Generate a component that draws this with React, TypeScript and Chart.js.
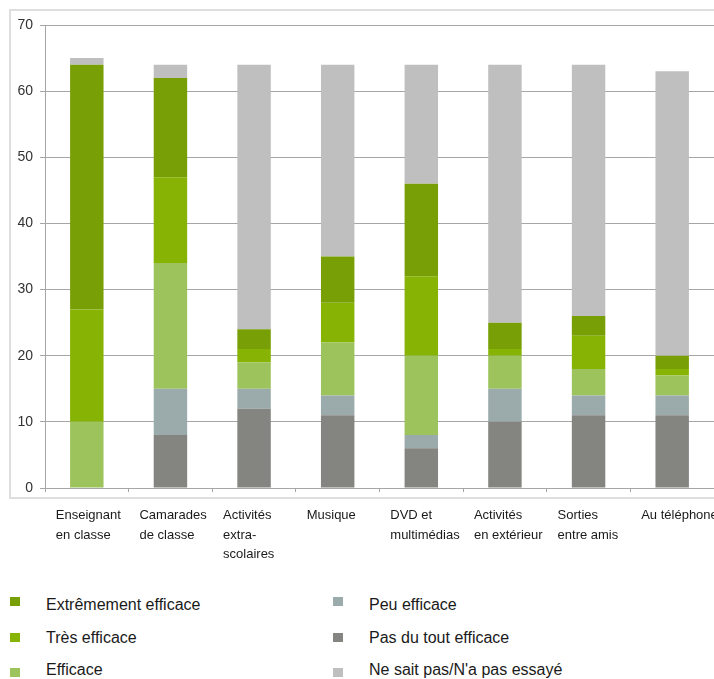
import React, { useEffect, useRef } from "react";
import { Chart, registerables } from "chart.js";

Chart.register(...registerables);

// ---- Data ----
const categories: string[][] = [
  ["Enseignant", "en classe"],
  ["Camarades", "de classe"],
  ["Activités", "extra-", "scolaires"],
  ["Musique"],
  ["DVD et", "multimédias"],
  ["Activités", "en extérieur"],
  ["Sorties", "entre amis"],
  ["Au téléphone"],
];

const pasDuTout = [0, 8, 12, 11, 6, 10, 11, 11];
const peu = [0, 7, 3, 3, 2, 5, 3, 3];
const efficace = [10, 19, 4, 8, 12, 5, 4, 3];
const tres = [17, 13, 2, 6, 12, 1, 5, 1];
const extreme = [37, 15, 3, 7, 14, 4, 3, 2];
const nsp = [1, 2, 40, 29, 18, 39, 38, 43];

const yTicks = [0, 10, 20, 30, 40, 50, 60, 70];

// stacking order bottom -> top
const series = [
  { label: "Pas du tout efficace", data: pasDuTout, color: "#848580" },
  { label: "Peu efficace", data: peu, color: "#9babab" },
  { label: "Efficace", data: efficace, color: "#9dc45c" },
  { label: "Très efficace", data: tres, color: "#86b304" },
  { label: "Extrêmement efficace", data: extreme, color: "#799f06" },
  { label: "Ne sait pas/N'a pas essayé", data: nsp, color: "#bfbfbf" },
];

// legend columns (by label)
const legendColumns = [
  ["Extrêmement efficace", "Très efficace", "Efficace"],
  ["Peu efficace", "Pas du tout efficace", "Ne sait pas/N'a pas essayé"],
];

const FONT = "'Liberation Sans', Arial, sans-serif";
const GRID = "#a6a6a6";

export default function App() {
  const ref = useRef<HTMLCanvasElement | null>(null);

  useEffect(() => {
    if (!ref.current) return;
    const chart = new Chart(ref.current, {
      type: "bar",
      data: {
        labels: categories,
        datasets: series.map((s) => ({
          label: s.label,
          data: s.data,
          backgroundColor: s.color,
          borderWidth: 0,
          barPercentage: 0.4,
          categoryPercentage: 1,
        })),
      },
      options: {
        responsive: false,
        animation: false,
        devicePixelRatio: 1,
        layout: { padding: { top: 25, right: 86, bottom: 0, left: 0 } },
        plugins: {
          legend: { display: false },
          tooltip: { enabled: false },
        },
        scales: {
          x: {
            stacked: true,
            offset: true,
            grid: {
              display: true,
              offset: true,
              drawOnChartArea: false,
              drawTicks: true,
              tickLength: 4,
              color: GRID,
            },
            border: { display: true, color: GRID, width: 1 },
            ticks: {
              autoSkip: false,
              maxRotation: 0,
              minRotation: 0,
              align: "start",
              labelOffset: -31,
              padding: 14,
              color: "#1a1a1a",
              font: { family: FONT, size: 13, lineHeight: 1.5 },
            },
            afterFit: (s: any) => {
              s.height = 80;
            },
          },
          y: {
            stacked: true,
            min: 0,
            max: 70,
            afterBuildTicks: (s: any) => {
              s.ticks = yTicks.map((v) => ({ value: v }));
            },
            grid: {
              color: GRID,
              lineWidth: 1,
              drawTicks: true,
              tickLength: 5,
            },
            border: { display: true, color: GRID, width: 1 },
            ticks: {
              padding: 7,
              color: "#333333",
              font: { family: FONT, size: 14 },
            },
            afterFit: (s: any) => {
              s.width = 45;
            },
          },
        },
      },
    });
    return () => chart.destroy();
  }, []);

  const colorOf = (label: string) =>
    series.find((s) => s.label === label)?.color ?? "#000";

  const squareTops = [597, 633, 668];
  const textCenters = [605, 638, 670];
  const colX = [{ sq: 10, tx: 46 }, { sq: 333, tx: 369 }];

  return (
    <div
      style={{
        position: "absolute",
        left: 0,
        top: 0,
        width: 714,
        height: 679,
        overflow: "hidden",
        background: "#ffffff",
      }}
    >
      <div
        style={{
          position: "absolute",
          left: 9,
          top: 9,
          width: 800,
          height: 490,
          boxSizing: "border-box",
          border: "2px solid #dedede",
        }}
      />
      <canvas
        ref={ref}
        width={800}
        height={568}
        style={{ position: "absolute", left: 0, top: 0, width: 800, height: 568 }}
      />
      {legendColumns.map((col, ci) =>
        col.map((label, ri) => (
          <React.Fragment key={label}>
            <div
              style={{
                position: "absolute",
                left: colX[ci].sq,
                top: squareTops[ri],
                width: 10,
                height: 9,
                background: colorOf(label),
              }}
            />
            <div
              style={{
                position: "absolute",
                left: colX[ci].tx,
                top: textCenters[ri] - 10,
                height: 20,
                lineHeight: "20px",
                fontFamily: FONT,
                fontSize: 16,
                color: "#1a1a1a",
                whiteSpace: "nowrap",
              }}
            >
              {label}
            </div>
          </React.Fragment>
        ))
      )}
    </div>
  );
}
